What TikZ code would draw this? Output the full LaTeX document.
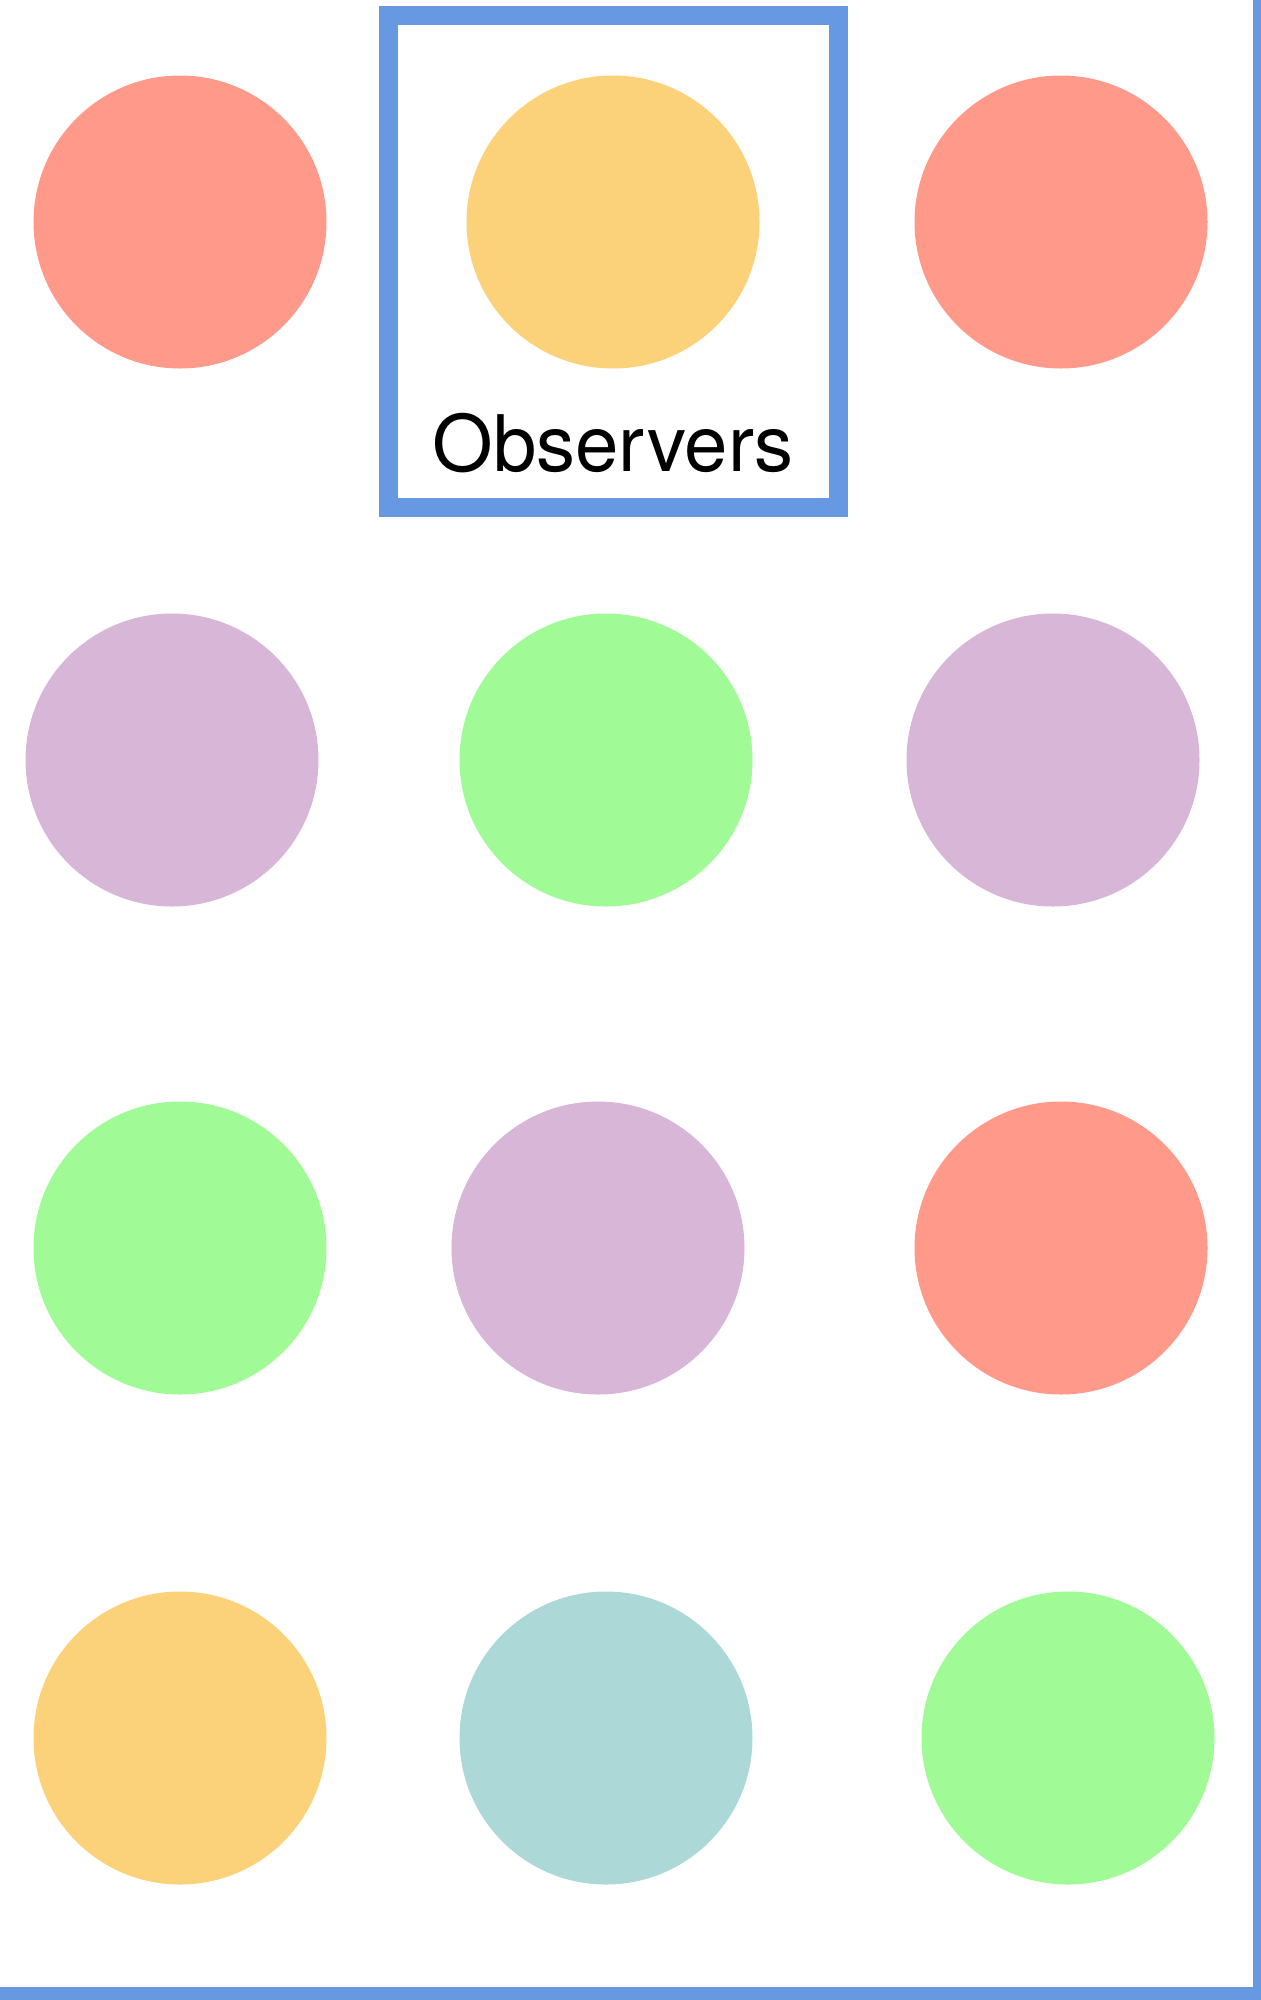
\documentclass[tikz,border=0pt]{standalone}
\usepackage{fontspec}
\setmainfont{TeX Gyre Heros}
\usepackage{tikz}

\definecolor{salmon}{RGB}{255,154,138}
\definecolor{sun}{RGB}{251,209,122}
\definecolor{lilac}{RGB}{216,182,216}
\definecolor{mint}{RGB}{160,251,150}
\definecolor{teal}{RGB}{173,216,216}
\definecolor{frameblue}{RGB}{102,153,226}

\begin{document}
\begin{tikzpicture}[x=1pt, y=-1pt, dot/.style = {circle, minimum size=293pt, inner sep=0pt}]
        \useasboundingbox (0,0) rectangle (1261,2000);
        \node[dot, fill=salmon] (a1) at (180,222) {};
        \node[dot, fill=sun] (a2) at (613,222) {};
        \node[dot, fill=salmon] (a3) at (1061,222) {};
        \node[dot, fill=lilac] (b1) at (172,760) {};
        \node[dot, fill=mint] (b2) at (606,760) {};
        \node[dot, fill=lilac] (b3) at (1053,760) {};
        \node[dot, fill=mint] (c1) at (180,1248) {};
        \node[dot, fill=lilac] (c2) at (598,1248) {};
        \node[dot, fill=salmon] (c3) at (1061,1248) {};
        \node[dot, fill=sun] (d1) at (180,1738) {};
        \node[dot, fill=teal] (d2) at (606,1738) {};
        \node[dot, fill=mint] (d3) at (1068,1738) {};
        \draw[frameblue, line width=19pt] (388.5,15.5) rectangle (838.5,507.5);
        \node[anchor=base, inner sep=0pt, font=\fontsize{78}{94}\selectfont] (obs) at (613,471) {Observers};
        \fill[frameblue] (1253,0) rectangle (1261,2000);
        \fill[frameblue] (0,1987) rectangle (1261,2000);
      \end{tikzpicture}
\end{document}
